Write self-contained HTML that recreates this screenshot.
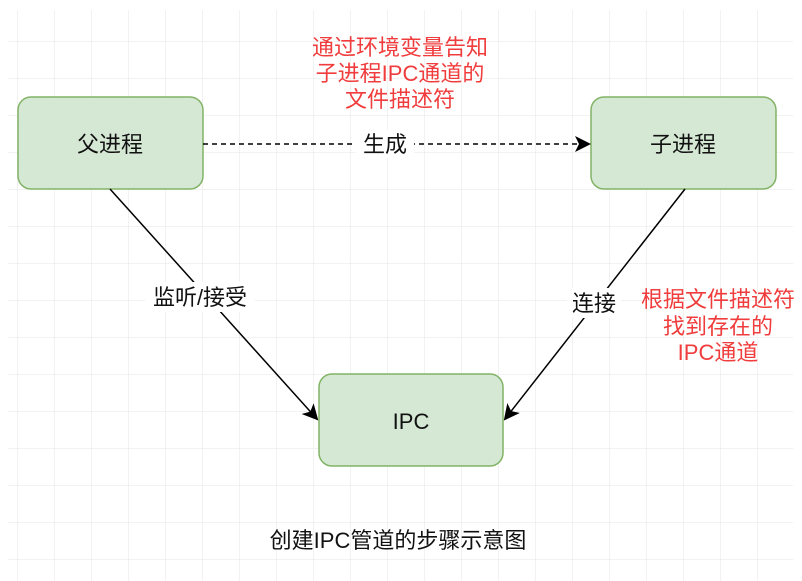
<!DOCTYPE html>
<html><head><meta charset="utf-8"><style>
html,body{margin:0;padding:0;background:#fff;}
svg{display:block;}
text{font-family:"Liberation Sans","Noto Sans CJK SC",sans-serif;}
</style></head><body>
<svg width="802" height="581" viewBox="0 0 802 581" xmlns="http://www.w3.org/2000/svg">
<defs>
<pattern id="g" x="17" y="4" width="37" height="37" patternUnits="userSpaceOnUse">
<path d="M0 0V37M0 0H37" stroke="#e6e6e6" stroke-width="1" fill="none"/>
</pattern>
<marker id="a" markerWidth="16" markerHeight="16" refX="14" refY="8" orient="auto" markerUnits="userSpaceOnUse">
<path d="M0 0L16 8L0 16L4 8Z" fill="#000"/>
</marker>
</defs>
<rect x="8" y="10" width="785" height="571" fill="url(#g)"/>
<rect x="18" y="97" width="185" height="92" rx="13" fill="#d5e8d4" stroke="#82b366" stroke-width="1.5"/>
<rect x="591" y="97" width="185" height="92" rx="13" fill="#d5e8d4" stroke="#82b366" stroke-width="1.5"/>
<rect x="319" y="374" width="184" height="92" rx="13" fill="#d5e8d4" stroke="#82b366" stroke-width="1.5"/>
<line x1="203" y1="144" x2="589" y2="144" stroke="#000" stroke-width="1.5" stroke-dasharray="5,4" marker-end="url(#a)"/>
<line x1="110" y1="189" x2="317" y2="419" stroke="#000" stroke-width="1.5" marker-end="url(#a)"/>
<line x1="685" y1="189" x2="505" y2="419" stroke="#000" stroke-width="1.5" marker-end="url(#a)"/>
<rect x="356" y="130" width="58" height="28" fill="#fff"/>
<rect x="145" y="282" width="110" height="30" fill="#fff"/>
<rect x="567" y="288" width="54" height="30" fill="#fff"/>
<g font-size="22" text-anchor="middle" fill="#111">
<text x="110" y="152">父进程</text>
<text x="683" y="152">子进程</text>
<text x="411" y="429">IPC</text>
<text x="385" y="152">生成</text>
<text x="200" y="305">监听/接受</text>
<text x="594" y="311">连接</text>
<text x="398" y="548">创建IPC管道的步骤示意图</text>
</g>
<g font-size="22" text-anchor="middle" fill="#f03c3c">
<text x="400" y="55">通过环境变量告知</text>
<text x="400" y="81">子进程IPC通道的</text>
<text x="400" y="107">文件描述符</text>
<text x="718" y="307">根据文件描述符</text>
<text x="718" y="334">找到存在的</text>
<text x="718" y="360">IPC通道</text>
</g>
</svg>
</body></html>
